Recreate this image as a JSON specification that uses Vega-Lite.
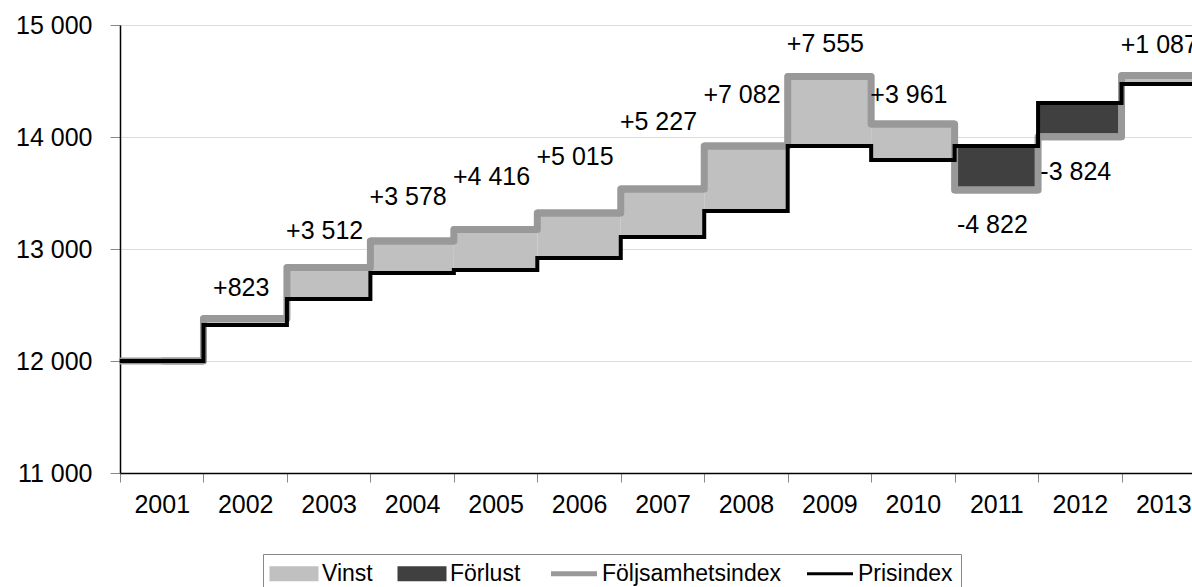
{
  "$schema": "https://vega.github.io/schema/vega-lite/v6.json",
  "autosize": "none",
  "width": 1072,
  "height": 448,
  "padding": {"left": 120, "top": 25, "right": 0, "bottom": 114},
  "background": "#ffffff",
  "config": {
    "font": "Liberation Sans",
    "view": {"stroke": null},
    "axis": {"labelFont": "Liberation Sans", "labelFontSize": 25, "labelColor": "#000000", "title": null},
    "text": {"font": "Liberation Sans"}
  },
  "data": {
    "values": [
      {"year": 2001, "pris": 12000, "folj": 12000, "utfall": "Vinst", "label": "", "ly": 12000},
      {"year": 2002, "pris": 12321, "folj": 12379, "utfall": "Vinst", "label": "+823", "ly": 12656},
      {"year": 2003, "pris": 12554, "folj": 12835, "utfall": "Vinst", "label": "+3 512", "ly": 13161},
      {"year": 2004, "pris": 12786, "folj": 13071, "utfall": "Vinst", "label": "+3 578", "ly": 13460},
      {"year": 2005, "pris": 12812, "folj": 13174, "utfall": "Vinst", "label": "+4 416", "ly": 13647},
      {"year": 2006, "pris": 12920, "folj": 13321, "utfall": "Vinst", "label": "+5 015", "ly": 13817},
      {"year": 2007, "pris": 13107, "folj": 13536, "utfall": "Vinst", "label": "+5 227", "ly": 14138},
      {"year": 2008, "pris": 13339, "folj": 13920, "utfall": "Vinst", "label": "+7 082", "ly": 14375},
      {"year": 2009, "pris": 13920, "folj": 14540, "utfall": "Vinst", "label": "+7 555", "ly": 14826},
      {"year": 2010, "pris": 13795, "folj": 14116, "utfall": "Vinst", "label": "+3 961", "ly": 14375},
      {"year": 2011, "pris": 13920, "folj": 13527, "utfall": "Förlust", "label": "-4 822", "ly": 13214},
      {"year": 2012, "pris": 14304, "folj": 14002, "utfall": "Förlust", "label": "-3 824", "ly": 13688},
      {"year": 2013, "pris": 14473, "folj": 14549, "utfall": "Vinst", "label": "+1 087", "ly": 14817}
    ]
  },
  "encoding": {
    "x": {
      "field": "year",
      "type": "ordinal",
      "scale": {"paddingInner": 0, "paddingOuter": 0, "range": [0, 1085]},
      "axis": {
        "title": null,
        "labelAngle": 0,
        "domainColor": "#000000",
        "domainWidth": 1.5,
        "tickColor": "#888888",
        "tickSize": 9,
        "tickBand": "extent",
        "labelPadding": 10,
        "grid": false
      }
    }
  },
  "layer": [
    {
      "mark": {"type": "bar"},
      "encoding": {
        "y": {
          "field": "pris",
          "type": "quantitative",
          "scale": {"domain": [11000, 15000], "nice": false, "zero": false},
          "axis": {
            "title": null,
            "values": [11000, 12000, 13000, 14000, 15000],
            "labelExpr": "replace(format(datum.value, ','), ',', ' ')",
            "domainColor": "#000000",
            "domainWidth": 1.5,
            "tickColor": "#888888",
            "tickSize": 10,
            "labelPadding": 18,
            "grid": true,
            "gridColor": "#bbbbbb",
            "gridDash": [1, 1],
            "gridWidth": 1
          }
        },
        "y2": {"field": "folj"},
        "color": {
          "field": "utfall",
          "type": "nominal",
          "scale": {
            "domain": ["Vinst", "Förlust", "Följsamhetsindex", "Prisindex"],
            "range": ["#c0c0c0", "#404040", "#999999", "#000000"]
          },
          "legend": {
            "title": null,
            "orient": "none",
            "legendX": 143,
            "legendY": 529,
            "direction": "horizontal",
            "strokeColor": "#888888",
            "padding": 8,
            "columnPadding": 20,
            "labelOffset": 28,
            "labelLimit": 400,
            "labelFont": "Liberation Sans",
            "labelFontSize": 23,
            "labelColor": "#000000",
            "symbolSize": 2116,
            "encode": {
              "symbols": {
                "update": {
                  "shape": {"signal": "datum.label === 'Vinst' || datum.label === 'Förlust' ? 'M-0.5,-0.26H1.5V0.26H-0.5Z' : 'M-0.5,0H1.5'"},
                  "fill": {"signal": "datum.label === 'Vinst' ? '#c0c0c0' : datum.label === 'Förlust' ? '#404040' : 'transparent'"},
                  "stroke": {"signal": "datum.label === 'Följsamhetsindex' ? '#999999' : datum.label === 'Prisindex' ? '#000000' : 'transparent'"},
                  "strokeWidth": {"signal": "datum.label === 'Följsamhetsindex' ? 5 : 3"},
                  "opacity": {"value": 1}
                }
              }
            }
          }
        }
      }
    },
    {
      "mark": {"type": "line", "interpolate": "step", "strokeWidth": 7, "strokeJoin": "round"},
      "encoding": {
        "y": {"field": "folj", "type": "quantitative", "title": null},
        "color": {"datum": "Följsamhetsindex"}
      }
    },
    {
      "mark": {"type": "tick", "thickness": 7, "size": 84, "opacity": 1},
      "encoding": {
        "y": {"field": "folj", "type": "quantitative", "title": null},
        "color": {"datum": "Följsamhetsindex"}
      }
    },
    {
      "mark": {"type": "line", "interpolate": "step", "strokeWidth": 4},
      "encoding": {
        "y": {"field": "pris", "type": "quantitative", "title": null},
        "color": {"datum": "Prisindex"}
      }
    },
    {
      "mark": {"type": "tick", "thickness": 4, "size": 84, "opacity": 1},
      "encoding": {
        "y": {"field": "pris", "type": "quantitative", "title": null},
        "color": {"datum": "Prisindex"}
      }
    },
    {
      "mark": {"type": "text", "fontSize": 25, "dx": -4, "baseline": "middle", "color": "#000000"},
      "encoding": {
        "y": {"field": "ly", "type": "quantitative", "title": null},
        "text": {"field": "label"}
      }
    }
  ]
}
